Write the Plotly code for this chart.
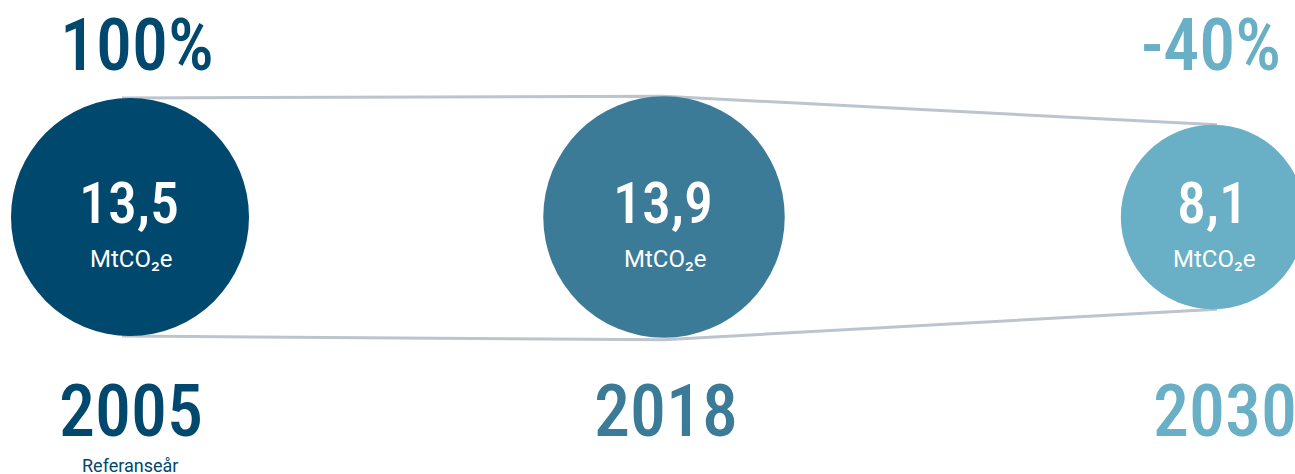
import numpy as np
import plotly.graph_objects as go

years = ["2005", "2018", "2030"]
values = [13.5, 13.9, 8.1]
value_labels = ["13,5", "13,9", "8,1"]
pct_labels = ["100%", "", "-40%"]
sub_labels = ["Referanseår", "", ""]
unit = "MtCO₂e"
colors = ["#00486D", "#3C7B98", "#69AFC5"]
line_color = "#BCC4CD"

W, H = 1295, 474
cx = [130, 664, 1213]
cy = 217
k = 119 / np.sqrt(values[0])          # circle area proportional to value
r = [k * np.sqrt(v) for v in values]

BIG = "Roboto Condensed, sans-serif"
SMALL = "Roboto, sans-serif"

fig = go.Figure()

# connecting outline (tangent lines along circle tops / bottoms)
fig.add_trace(go.Scatter(x=[cx[0] - 8, cx[1], cx[2] + 4], y=[cy - r[0], cy - r[1], cy - r[2]],
                         mode="lines", line=dict(color=line_color, width=3), hoverinfo="skip"))
fig.add_trace(go.Scatter(x=[cx[0] - 8, cx[1], cx[2] + 4], y=[cy + r[0], cy + r[1] + 2, cy + r[2]],
                         mode="lines", line=dict(color=line_color, width=3), hoverinfo="skip"))

# circles
fig.add_trace(go.Scatter(x=cx, y=[cy] * 3, mode="markers",
                         marker=dict(size=[2 * ri for ri in r], color=colors, line=dict(width=0), opacity=1),
                         hoverinfo="skip"))

ann = []
for i in range(3):
    ann.append(dict(x=cx[i] - 1, y=cy - 14, text=value_labels[i], showarrow=False,
                    font=dict(family=BIG, size=58, color="white", weight=500), xanchor="center", yanchor="middle"))
    ann.append(dict(x=cx[i] + 1, y=cy + 42, text=unit, showarrow=False,
                    font=dict(family=SMALL, size=24, color="white", weight=400), xanchor="center", yanchor="middle"))
year_x = [131, 666, 1225]
for i in range(3):
    ann.append(dict(x=year_x[i], y=411, text=years[i], showarrow=False,
                    font=dict(family=BIG, size=72, color=colors[i], weight=500), xanchor="center", yanchor="middle"))
pct_x = [137, 664, 1211]
for i in range(3):
    if pct_labels[i]:
        ann.append(dict(x=pct_x[i], y=45, text=pct_labels[i], showarrow=False,
                        font=dict(family=BIG, size=72, color=colors[i], weight=500), xanchor="center", yanchor="middle"))
    if sub_labels[i]:
        ann.append(dict(x=cx[i], y=465, text=sub_labels[i], showarrow=False,
                        font=dict(family=SMALL, size=18, color=colors[i], weight=400), xanchor="center", yanchor="middle"))

fig.update_layout(
    width=W, height=H, margin=dict(l=0, r=0, t=0, b=0),
    paper_bgcolor="white", plot_bgcolor="white", showlegend=False,
    xaxis=dict(range=[0, W], visible=False, fixedrange=True),
    yaxis=dict(range=[H, 0], visible=False, fixedrange=True),
    annotations=ann,
)
fig.write_html("out.html", config={"displayModeBar": False},
               post_script="document.body.style.margin='0';document.body.style.overflow='hidden';")
